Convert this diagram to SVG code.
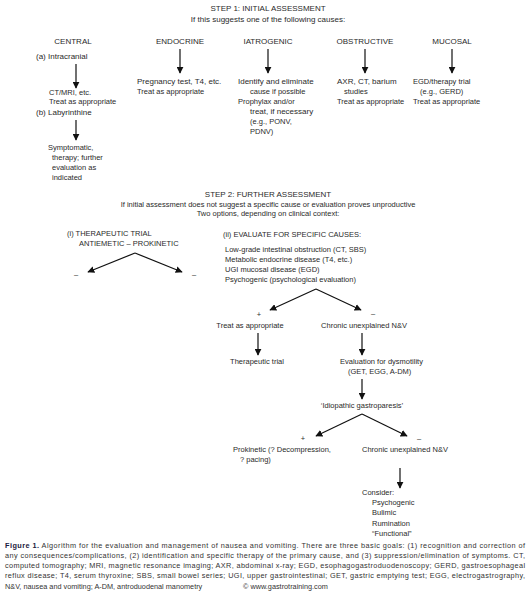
<svg xmlns="http://www.w3.org/2000/svg" width="530" height="597" viewBox="0 0 530 597">
<defs>
<marker id="ah" viewBox="0 0 10 10" refX="9" refY="5" markerWidth="7" markerHeight="7" markerUnits="userSpaceOnUse" orient="auto">
<path d="M0,0 L10,5 L0,10 z" fill="#111"/>
</marker>
<style>
text{font-family:"Liberation Sans",Arial,sans-serif;font-size:7.5px;fill:#2a2a2a}
.h{font-size:8px}
.c{text-anchor:middle}
.cap{font-size:7.3px;fill:#333}
.b{font-weight:bold;fill:#1a2040}
line{stroke:#111;stroke-width:1.2;marker-end:url(#ah)}
</style>
</defs>
<rect width="530" height="597" fill="#fff"/>
<g id="step1">
<text class="h c" x="268" y="11">STEP 1: INITIAL ASSESSMENT</text>
<text class="h c" x="268" y="22">If this suggests one of the following causes:</text>
</g>
<g id="central">
<text class="h c" x="73" y="44">CENTRAL</text>
<text class="h" x="36" y="59">(a) Intracranial</text>
<text x="49" y="95">CT/MRI, etc.</text>
<text x="49" y="104">Treat as appropriate</text>
<text class="h" x="36" y="115">(b) Labyrinthine</text>
<text x="48" y="150">Symptomatic,</text>
<text x="52" y="160">therapy; further</text>
<text x="52" y="170">evaluation as</text>
<text x="52" y="180">indicated</text>
</g>
<g id="endocrine">
<text class="h c" x="180" y="44">ENDOCRINE</text>
<text class="h" x="137" y="84">Pregnancy test, T4, etc.</text>
<text x="137" y="94">Treat as appropriate</text>
</g>
<g id="iatrogenic">
<text class="h c" x="268" y="44">IATROGENIC</text>
<text class="h" x="238" y="84">Identify and eliminate</text>
<text x="250" y="94">cause if possible</text>
<text x="238" y="104">Prophylax and/or</text>
<text class="h" x="250" y="114">treat, if necessary</text>
<text x="250" y="124">(e.g., PONV,</text>
<text x="250" y="134">PDNV)</text>
</g>
<g id="obstructive">
<text class="h c" x="365" y="44">OBSTRUCTIVE</text>
<text class="h" x="337" y="84">AXR, CT, barium</text>
<text x="344" y="94">studies</text>
<text x="337" y="104">Treat as appropriate</text>
</g>
<g id="mucosal">
<text class="h c" x="452" y="44">MUCOSAL</text>
<text x="413" y="84">EGD/therapy trial</text>
<text x="420" y="94">(e.g., GERD)</text>
<text x="413" y="104">Treat as appropriate</text>
</g>
<g id="step2">
<text class="h c" x="268" y="197">STEP 2: FURTHER ASSESSMENT</text>
<text class="c" x="268" y="207">If initial assessment does not suggest a specific cause or evaluation proves unproductive</text>
<text class="c" x="268" y="216">Two options, depending on clinical context:</text>
</g>
<g id="trial">
<text x="67" y="236">(i) THERAPEUTIC TRIAL</text>
<text x="79" y="246">ANTIEMETIC  –  PROKINETIC</text>
<text class="c" x="76" y="277">–</text>
<text class="c" x="194" y="277">–</text>
</g>
<g id="evaluate">
<text x="223" y="237">(ii) EVALUATE FOR SPECIFIC CAUSES:</text>
<text x="225" y="252">Low-grade intestinal obstruction (CT, SBS)</text>
<text x="225" y="262">Metabolic endocrine disease (T4, etc.)</text>
<text x="225" y="272">UGI mucosal disease (EGD)</text>
<text x="225" y="282">Psychogenic (psychological evaluation)</text>
<text class="c" x="259" y="317">+</text>
<text class="c" x="373" y="316">–</text>
</g>
<g id="treat">
<text class="c" x="250" y="328">Treat as appropriate</text>
</g>
<g id="chronic1">
<text class="c" x="364" y="328">Chronic unexplained N&amp;V</text>
</g>
<g id="therapeutic">
<text class="c" x="257" y="364">Therapeutic trial</text>
</g>
<g id="dysmotility">
<text x="340" y="364">Evaluation for dysmotility</text>
<text x="348" y="374">(GET, EGG, A-DM)</text>
</g>
<g id="idiopathic">
<text class="c" x="362" y="408">‘Idiopathic gastroparesis’</text>
<text class="c" x="303" y="441">+</text>
<text class="c" x="419" y="441">–</text>
</g>
<g id="prokinetic">
<text x="233" y="452">Prokinetic (? Decompression,</text>
<text x="240" y="462">? pacing)</text>
</g>
<g id="chronic2">
<text x="362" y="452">Chronic unexplained N&amp;V</text>
</g>
<g id="consider">
<text x="362" y="495">Consider:</text>
<text x="372" y="505">Psychogenic</text>
<text x="372" y="515">Bulimic</text>
<text x="372" y="526">Rumination</text>
<text x="372" y="536">“Functional”</text>
</g>
<g id="connectors">
<line x1="76" y1="64" x2="76" y2="88"/>
<line x1="76" y1="120" x2="76" y2="140"/>
<line x1="180" y1="49" x2="180" y2="73"/>
<line x1="268" y1="49" x2="268" y2="73"/>
<line x1="365" y1="49" x2="365" y2="73"/>
<line x1="452" y1="49" x2="452" y2="73"/>
<line x1="135" y1="253" x2="88" y2="272"/>
<line x1="135" y1="253" x2="182" y2="272"/>
<line x1="316" y1="289" x2="270" y2="310"/>
<line x1="316" y1="289" x2="361" y2="310"/>
<line x1="258" y1="333" x2="258" y2="355"/>
<line x1="362" y1="333" x2="362" y2="355"/>
<line x1="362" y1="379" x2="362" y2="399"/>
<line x1="362" y1="414" x2="316" y2="436"/>
<line x1="362" y1="414" x2="407" y2="436"/>
<line x1="400" y1="468" x2="400" y2="488"/>
</g>
<g id="caption">
<text class="cap" x="5" y="548" textLength="520" lengthAdjust="spacing"><tspan class="b">Figure 1.</tspan>  Algorithm for the evaluation and management of nausea and vomiting. There are three basic goals: (1) recognition and correction of</text>
<text class="cap" x="5" y="558" textLength="520" lengthAdjust="spacing">any consequences/complications, (2) identification and specific therapy of the primary cause, and (3) suppression/elimination of symptoms. CT,</text>
<text class="cap" x="5" y="568" textLength="520" lengthAdjust="spacing">computed tomography; MRI, magnetic resonance imaging; AXR, abdominal x-ray; EGD, esophagogastroduodenoscopy; GERD, gastroesophageal</text>
<text class="cap" x="5" y="578" textLength="520" lengthAdjust="spacing">reflux disease; T4, serum thyroxine; SBS, small bowel series; UGI, upper gastrointestinal; GET, gastric emptying test; EGG, electrogastrography,</text>
<text class="cap" x="5" y="589">N&amp;V, nausea and vomiting; A-DM, antroduodenal manometry</text>
<text class="cap" x="243" y="589">© www.gastrotraining.com</text>
</g>
</svg>
